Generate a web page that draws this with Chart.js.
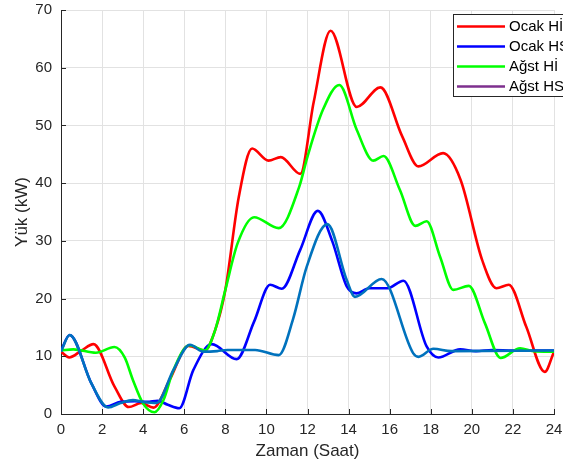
<!DOCTYPE html>
<html>
<head>
<meta charset="utf-8">
<script src="https://cdn.jsdelivr.net/npm/chart.js@4.4.1/dist/chart.umd.min.js"></script>
<style>
html, body { margin: 0; padding: 0; background: #fff; }
</style>
</head>
<body>
<canvas id="loadChart" width="563" height="470"></canvas>
<script>
// series (hour, kW)
const ocakHiHours = [0, 0.4, 1.0, 1.58, 2.6, 3.3, 3.9, 4.5, 5.3, 6.2, 7.0, 7.5, 8.0, 8.65, 9.3, 10.1, 10.7, 11.65, 12.3, 13.12, 14.4, 15.55, 16.6, 17.4, 18.6, 19.45, 20.5, 21.2, 21.8, 22.65, 23.55, 24];
const ocakHiLoad  = [10.8, 9.8, 11.0, 12.1, 4.8, 1.2, 1.9, 1.1, 6.0, 11.8, 11.0, 14.5, 21.5, 37.5, 46.0, 43.9, 44.5, 41.6, 54.0, 66.4, 53.2, 56.6, 48.2, 42.9, 45.2, 40.6, 26.7, 21.8, 22.4, 15.1, 7.3, 10.8];

const ocakHsHours = [0, 0.42, 1.48, 2.2, 2.9, 3.6, 4.2, 4.7, 5.2, 5.76, 6.44, 7.34, 8.55, 9.4, 10.18, 10.75, 11.64, 12.5, 13.2, 13.91, 14.39, 15.0, 15.9, 16.67, 17.8, 18.37, 19.43, 20.2, 21, 22, 24];
const ocakHsLoad  = [11.0, 13.7, 5.3, 1.3, 2.1, 2.2, 2.1, 2.3, 1.6, 1.0, 7.6, 12.1, 9.5, 16.0, 22.4, 21.7, 28.4, 35.2, 30.0, 22.1, 20.9, 21.8, 21.8, 23.1, 11.7, 9.8, 11.2, 10.9, 11.1, 11.0, 11.0];

const agstHiHours = [0, 0.6, 1.7, 2.6, 3.1, 3.5, 4.0, 4.55, 5.0, 5.45, 6.25, 7.0, 7.5, 8.0, 8.6, 9.4, 10.6, 11.6, 12.0, 12.75, 13.55, 14.4, 15.2, 15.7, 16.5, 17.25, 17.8, 18.45, 19.1, 19.85, 20.64, 21.4, 22.35, 23.0, 24];
const agstHiLoad  = [11.0, 11.2, 10.6, 11.6, 9.8, 5.9, 1.8, 0.3, 2.5, 7.4, 11.9, 11.0, 14.5, 21.5, 29.6, 34.1, 32.2, 39.4, 44.6, 52.7, 57.0, 49.2, 43.9, 44.7, 38.8, 32.6, 33.4, 27.3, 21.5, 22.2, 15.7, 9.7, 11.4, 10.9, 10.8];

const agstHsHours = [0, 0.42, 1.48, 2.29, 2.9, 3.5, 4.0, 4.65, 5.47, 6.28, 6.93, 7.6, 8.1, 9.45, 10.6, 11.3, 11.96, 12.97, 13.91, 14.31, 15.61, 17.15, 17.4, 18.13, 19, 24];
const agstHsLoad  = [10.8, 13.7, 5.3, 1.15, 1.9, 2.4, 2.1, 1.9, 7.6, 12.0, 10.8, 10.9, 11.1, 11.1, 10.2, 16.5, 25.5, 32.9, 23.2, 20.3, 23.4, 10.5, 9.9, 11.3, 10.9, 11.0];

const seriesNames = ['Ocak Hİ', 'Ocak HS', 'Ağst Hİ', 'Ağst HS'];
const lineColors = ['#ff0000', '#0000ff', '#00ff00', '#0072bd'];
const legendColors = ['#ff0000', '#0000ff', '#00ff00', '#7e2f8e'];
const xTicks = [0, 2, 4, 6, 8, 10, 12, 14, 16, 18, 20, 22, 24];
const yTicks = [0, 10, 20, 30, 40, 50, 60, 70];

const FONT = "'Liberation Sans', Arial, Helvetica, sans-serif";
const INK = '#262626';

function points(hours, load) {
    return hours.map((h, i) => ({ x: h, y: load[i] }));
}

const allSeries = [
    points(ocakHiHours, ocakHiLoad),
    points(ocakHsHours, ocakHsLoad),
    points(agstHiHours, agstHiLoad),
    points(agstHsHours, agstHsLoad)
];

// MATLAB style: inward tick marks on left and bottom axes
const tickMarks = {
    id: 'tickMarks',
    afterDatasetsDraw(chart) {
        const ctx = chart.ctx;
        const area = chart.chartArea;
        const xs = chart.scales.x, ys = chart.scales.y;
        ctx.save();
        ctx.strokeStyle = INK;
        ctx.lineWidth = 1;
        ctx.beginPath();
        xTicks.forEach(t => {
            const px = Math.round(xs.getPixelForValue(t)) + 0.5;
            ctx.moveTo(px, area.bottom);
            ctx.lineTo(px, area.bottom - 5);
        });
        yTicks.forEach(t => {
            const py = Math.round(ys.getPixelForValue(t)) + 0.5;
            ctx.moveTo(area.left, py);
            ctx.lineTo(area.left + 5, py);
        });
        ctx.stroke();
        ctx.restore();
    }
};

// boxed legend in the top right corner, running off the edge like the original
const boxLegend = {
    id: 'boxLegend',
    afterDraw(chart) {
        const ctx = chart.ctx;
        ctx.save();
        ctx.fillStyle = '#fff';
        ctx.strokeStyle = INK;
        ctx.lineWidth = 1;
        ctx.fillRect(453.5, 14.5, 120, 82);
        ctx.strokeRect(453.5, 14.5, 120, 82);
        ctx.font = '15px ' + FONT;
        ctx.textBaseline = 'middle';
        ctx.fillStyle = '#000';
        seriesNames.forEach((name, i) => {
            const y = 26.5 + i * 20;
            ctx.strokeStyle = legendColors[i];
            ctx.lineWidth = 2.5;
            ctx.beginPath();
            ctx.moveTo(457, y);
            ctx.lineTo(505, y);
            ctx.stroke();
            ctx.fillText(name, 509, y);
        });
        ctx.restore();
    }
};

const ctxLoad = document.getElementById('loadChart').getContext('2d');
const loadChart = new Chart(ctxLoad, {
    type: 'line',
    data: {
        datasets: allSeries.map((pts, i) => ({
            label: seriesNames[i],
            data: pts,
            borderColor: lineColors[i],
            borderWidth: 2.6,
            pointRadius: 0,
            fill: false,
            cubicInterpolationMode: 'monotone',
            order: 3 - i
        }))
    },
    options: {
        responsive: false,
        animation: false,
        events: [],
        layout: { padding: { top: 10, right: 9, left: 0, bottom: 0 } },
        plugins: {
            legend: { display: false },
            tooltip: { enabled: false }
        },
        scales: {
            x: {
                type: 'linear',
                min: 0,
                max: 24,
                afterFit: s => { s.height = 56; s.paddingLeft = 0; s.paddingRight = 0; },
                afterBuildTicks: s => { s.ticks = xTicks.map(v => ({ value: v })); },
                ticks: { color: INK, font: { family: FONT, size: 15 }, padding: 7, maxRotation: 0 },
                grid: { color: '#e2e2e2', drawTicks: false },
                border: { color: INK, width: 1 },
                title: { display: true, text: 'Zaman (Saat)', color: INK, font: { family: FONT, size: 17 }, padding: { top: 0, bottom: 8 } }
            },
            y: {
                min: 0,
                max: 70,
                afterFit: s => { s.width = 61; s.paddingTop = 0; s.paddingBottom = 0; },
                afterBuildTicks: s => { s.ticks = yTicks.map(v => ({ value: v })); },
                ticks: { color: INK, font: { family: FONT, size: 15 }, padding: 9 },
                grid: { color: '#e2e2e2', drawTicks: false },
                border: { color: INK, width: 1 },
                title: { display: true, text: 'Yük (kW)', color: INK, font: { family: FONT, size: 17 }, padding: { top: 12, bottom: 0 } }
            }
        }
    },
    plugins: [tickMarks, boxLegend]
});
</script>
</body>
</html>
